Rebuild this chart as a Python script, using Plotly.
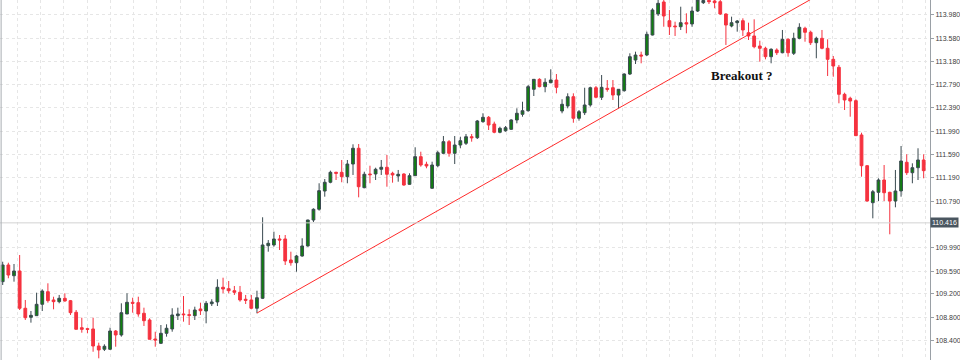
import plotly.graph_objects as go

# ---- data ----
bars = list(range(164))

open_ = [109.408,109.694,109.510,109.591,108.952,108.797,108.825,109.020,109.236,109.094,
109.065,109.123,109.082,108.883,108.619,108.602,108.597,108.305,108.249,108.249,
108.562,108.494,108.854,109.054,109.048,108.866,108.751,108.425,108.351,108.523,
108.597,108.825,108.854,108.842,108.825,108.940,108.905,109.030,109.060,109.312,
109.288,109.253,109.226,109.106,109.094,108.952,109.123,110.025,110.037,110.140,
110.140,109.780,109.733,109.848,110.020,110.465,110.649,110.962,111.112,111.283,
111.283,111.208,111.425,111.695,111.019,111.254,111.254,111.335,111.369,111.266,
111.220,111.254,111.077,111.225,111.551,111.420,111.009,111.396,111.609,111.808,
111.609,111.751,111.780,111.893,111.876,112.151,112.226,112.111,111.969,111.996,
112.020,112.180,112.277,112.339,112.706,112.877,112.751,112.819,112.865,112.334,
112.420,112.579,112.209,112.305,112.437,112.733,112.569,112.723,112.733,112.608,
112.682,112.968,113.208,113.294,113.294,113.637,113.997,114.203,113.882,113.791,
113.779,113.848,113.826,114.048,114.191,114.230,114.220,114.208,113.997,113.791,
113.848,113.882,113.676,113.620,113.448,113.409,113.265,113.380,113.333,113.563,
113.323,113.580,113.752,113.683,113.505,113.580,113.409,113.220,113.083,112.620,
112.552,112.511,111.923,111.396,110.762,110.940,111.151,110.940,110.791,110.963,
111.455,111.276,111.362,111.494]

high = [109.750,109.733,109.711,109.865,109.094,108.905,109.219,109.277,109.380,109.150,
109.180,109.209,109.094,108.922,108.790,108.619,108.790,108.362,108.334,108.619,
108.579,109.037,109.209,109.133,109.150,108.962,108.780,108.550,108.665,108.677,
108.952,108.962,109.162,108.934,108.979,109.048,109.077,109.106,109.449,109.476,
109.420,109.334,109.334,109.180,109.180,109.253,110.512,110.122,110.265,110.208,
110.208,109.922,109.865,110.152,110.470,110.666,111.095,111.168,111.311,111.293,
111.494,111.494,111.763,111.768,111.293,111.396,111.362,111.494,111.580,111.293,
111.323,111.266,111.266,111.712,111.636,111.465,111.465,111.653,111.905,111.837,
111.905,111.893,111.940,111.940,112.180,112.295,112.248,112.151,112.065,112.077,
112.192,112.380,112.493,112.780,112.877,112.895,112.895,113.049,112.968,112.535,
112.637,112.637,112.351,112.733,112.751,112.763,112.951,112.865,112.865,112.710,
112.980,113.323,113.351,113.351,113.694,114.095,114.270,114.290,114.066,113.865,
114.122,114.009,114.122,114.270,114.250,114.250,114.240,114.237,114.009,113.951,
113.894,113.923,113.848,113.906,113.539,113.436,113.409,113.409,113.723,113.580,
113.676,113.838,113.779,113.711,113.608,113.723,113.563,113.277,113.123,112.648,
112.579,112.535,111.962,111.408,110.980,111.180,111.408,110.950,111.323,111.734,
111.592,111.437,111.695,111.592]

low = [109.351,109.466,109.408,108.922,108.751,108.705,108.820,108.905,109.048,108.934,
109.037,109.065,108.837,108.591,108.533,108.523,108.207,108.094,108.219,108.237,
108.293,108.465,108.854,108.876,108.808,108.648,108.420,108.293,108.339,108.465,
108.550,108.751,108.722,108.665,108.751,108.837,108.694,108.991,108.991,109.209,
109.209,109.180,109.065,109.025,108.934,108.866,109.110,109.922,110.008,109.951,
109.694,109.682,109.579,109.836,110.008,110.431,110.625,110.865,111.095,111.151,
111.112,111.095,111.237,110.854,111.009,111.095,111.151,111.237,111.036,111.105,
111.122,111.053,111.070,111.220,111.379,111.352,111.000,111.369,111.592,111.551,
111.425,111.695,111.751,111.808,111.854,112.133,112.008,111.952,111.952,111.979,
112.008,112.123,112.236,112.322,112.591,112.740,112.655,112.810,112.637,112.295,
112.380,112.133,112.168,112.265,112.408,112.552,112.523,112.665,112.523,112.380,
112.665,112.951,113.140,113.152,113.277,113.630,113.963,113.779,113.637,113.620,
113.723,113.666,113.779,114.031,114.168,114.168,114.095,113.980,113.466,113.769,
113.694,113.620,113.551,113.409,113.179,113.220,113.152,113.294,113.323,113.265,
113.294,113.563,113.522,113.466,113.238,113.392,112.934,112.922,112.466,112.351,
112.236,111.905,111.208,110.779,110.494,110.791,110.791,110.220,110.683,110.865,
111.237,111.095,111.151,111.180]

close = [109.694,109.522,109.591,108.952,108.790,108.831,109.020,109.248,109.082,109.065,
109.123,109.077,108.876,108.591,108.591,108.591,108.305,108.237,108.300,108.562,
108.494,108.876,109.054,109.037,108.854,108.739,108.420,108.408,108.523,108.609,
108.837,108.854,108.842,108.831,108.922,108.910,109.037,109.060,109.312,109.282,
109.253,109.226,109.094,109.089,108.952,109.133,110.037,110.066,110.140,110.122,
109.762,109.733,109.848,110.020,110.465,110.649,110.968,111.112,111.283,111.266,
111.208,111.425,111.695,111.036,111.249,111.242,111.335,111.369,111.249,111.237,
111.249,111.065,111.225,111.551,111.408,111.391,111.408,111.619,111.808,111.609,
111.751,111.825,111.893,111.876,112.163,112.226,112.094,111.969,112.037,112.048,
112.180,112.295,112.339,112.751,112.877,112.751,112.826,112.865,112.740,112.449,
112.579,112.209,112.322,112.437,112.733,112.569,112.740,112.706,112.608,112.706,
112.968,113.265,113.294,113.277,113.649,114.066,114.180,113.963,113.779,113.779,
113.848,113.826,114.048,114.237,114.228,114.208,114.191,113.997,113.808,113.848,
113.877,113.723,113.620,113.436,113.409,113.265,113.392,113.333,113.563,113.333,
113.580,113.769,113.683,113.505,113.580,113.409,113.220,113.105,112.620,112.523,
112.505,111.911,111.396,110.791,110.950,111.151,110.933,110.791,110.963,111.477,
111.276,111.362,111.494,111.311]

price_ticks = [113.980, 113.580, 113.180, 112.790, 112.390, 111.990, 111.590,
               111.190, 110.790, 109.990, 109.590, 109.200, 108.800, 108.400]
current_price = 110.416

trend_x = [45, 147]
trend_y = [108.870, 114.466]

annotation_text = "Breakout ?"

# ---- figure ----
fig = go.Figure()

fig.add_trace(go.Candlestick(
    x=bars, open=open_, high=high, low=low, close=close,
    increasing=dict(line=dict(color="#3a4a50", width=1), fillcolor="#10800f"),
    decreasing=dict(line=dict(color="#f5323f", width=1), fillcolor="#f5323f"),
    whiskerwidth=0, showlegend=False, hoverinfo="skip",
))

fig.add_trace(go.Scatter(
    x=trend_x, y=trend_y, mode="lines",
    line=dict(color="#ff2b2b", width=1), showlegend=False, hoverinfo="skip",
))

grid = "#e6e6e6"
fig.update_layout(
    width=960, height=360,
    margin=dict(l=0, r=30, t=0, b=0),
    paper_bgcolor="white", plot_bgcolor="white",
    showlegend=False,
    xaxis=dict(
        range=[-0.478, 164.12], rangeslider=dict(visible=False),
        showticklabels=False, ticks="", showline=False, zeroline=False,
        showgrid=True, gridcolor=grid, griddash="3px,3px", gridwidth=1,
        tick0=52.04, dtick=4.122, tickmode="linear",
    ),
    yaxis=dict(
        side="right", range=[108.065, 114.237],
        tickmode="array", tickvals=price_ticks,
        ticktext=[f"{v:.3f}" for v in price_ticks],
        tickfont=dict(family="Liberation Sans, Arial, sans-serif", size=7, color="#3c3c3c"),
        showline=True, linecolor="#9aa0a6", linewidth=1,
        ticks="outside", ticklen=3, tickcolor="#9aa0a6",
        showgrid=True, gridcolor=grid, griddash="3px,3px", gridwidth=1,
        zeroline=False,
    ),
    shapes=[
        dict(type="line", xref="paper", yref="y", x0=0, x1=1,
             y0=current_price, y1=current_price,
             line=dict(color="#d2d2d2", width=1)),
        dict(type="line", xref="paper", yref="paper", x0=0.0012, x1=0.0012,
             y0=0, y1=1, line=dict(color="#a8adb2", width=1)),
    ],
    annotations=[
        dict(xref="paper", yref="paper", x=0.798, y=0.789,
             xanchor="center", yanchor="middle",
             text=f"<b>{annotation_text}</b>", showarrow=False,
             font=dict(family="Liberation Serif, Times New Roman, serif", size=13, color="#111111")),
        dict(xref="paper", yref="y", x=1.0, y=current_price, xanchor="left",
             text=f"{current_price:.3f}", showarrow=False,
             font=dict(family="Liberation Sans, Arial, sans-serif", size=7, color="white"),
             bgcolor="#4a5660", borderpad=1),
    ],
)

fig.write_html(
    "out.html",
    config={"displayModeBar": False},
    post_script="document.body.style.margin='0';document.body.style.overflow='hidden';",
)
